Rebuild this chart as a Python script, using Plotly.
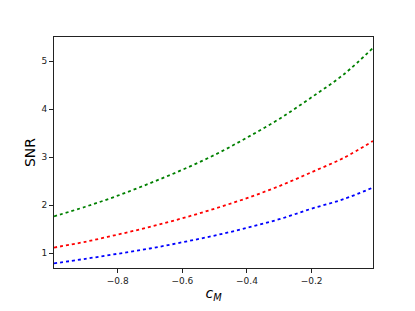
import plotly.graph_objects as go

c_M = [-0.997, -0.9, -0.8, -0.7, -0.6, -0.5, -0.4, -0.3, -0.2, -0.1, -0.01]
snr_green = [1.77, 1.97, 2.20, 2.46, 2.74, 3.05, 3.41, 3.80, 4.25, 4.73, 5.28]
snr_red = [1.12, 1.24, 1.39, 1.55, 1.73, 1.93, 2.15, 2.40, 2.69, 2.99, 3.34]
snr_blue = [0.79, 0.885, 0.99, 1.10, 1.23, 1.37, 1.53, 1.71, 1.93, 2.13, 2.37]

x_ticks = [-0.8, -0.6, -0.4, -0.2]
x_tick_labels = ["\u22120.8", "\u22120.6", "\u22120.4", "\u22120.2"]
y_ticks = [1, 2, 3, 4, 5]

fig = go.Figure()
for ys, col in [(snr_green, "green"), (snr_red, "red"), (snr_blue, "blue")]:
    fig.add_trace(go.Scatter(x=c_M, y=ys, mode="lines",
                             line=dict(color=col, width=1.8, dash="dot", shape="spline"),
                             showlegend=False))

axis_common = dict(showline=True, linecolor="#222", linewidth=1, mirror=True,
                   ticks="outside", ticklen=4, tickcolor="#222", showgrid=False,
                   zeroline=False, tickfont=dict(family="DejaVu Sans", size=9, color="#222"))

fig.update_layout(
    width=407, height=303,
    margin=dict(l=46, r=42, t=29, b=43),
    paper_bgcolor="white", plot_bgcolor="white",
    xaxis=dict(range=[-0.997, -0.01], tickvals=x_ticks, ticktext=x_tick_labels,
               title=dict(text="<i>c</i><sub><i>M</i></sub>", standoff=3,
                          font=dict(family="DejaVu Sans", size=14, color="black")),
               **axis_common),
    yaxis=dict(range=[0.694, 5.506], tickvals=y_ticks,
               title=dict(text="SNR", standoff=2,
                          font=dict(family="DejaVu Sans", size=14, color="black")),
               **axis_common),
)

fig.write_html("out.html")
